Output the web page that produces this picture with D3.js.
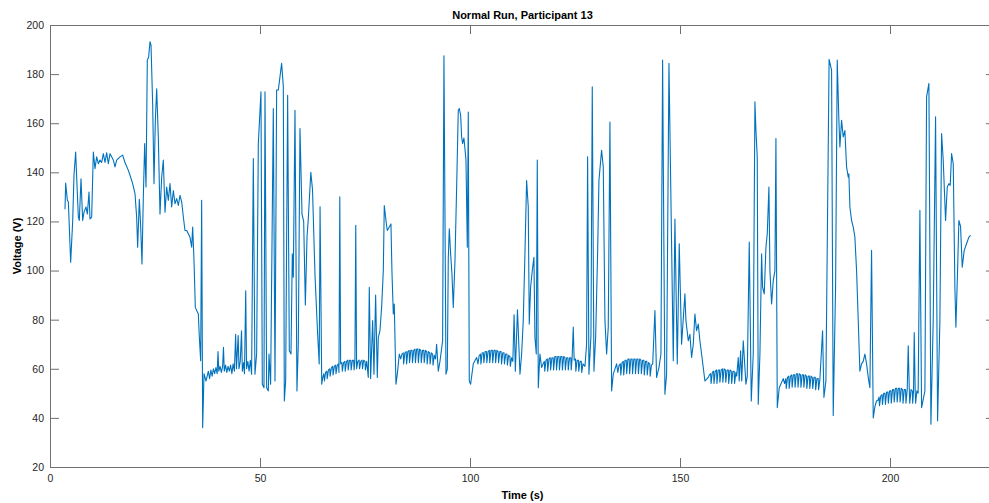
<!DOCTYPE html>
<html><head><meta charset="utf-8">
<script src="https://cdn.jsdelivr.net/npm/d3@7"></script>
<style>
html,body{margin:0;padding:0;background:#fff;}
svg{display:block;}
text{font-family:"Liberation Sans",Arial,Helvetica,sans-serif;}
</style>
</head><body>
<svg id="chart" width="989" height="503"></svg>
<script>
const chartTitle = "Normal Run, Participant 13";
const xLabel = "Time (s)";
const yLabel = "Voltage (V)";
const xTicks = [0, 50, 100, 150, 200];
const yTicks = [20, 40, 60, 80, 100, 120, 140, 160, 180, 200];
const xDomain = [0, 225];
const yDomain = [20, 200];

// [time (s), voltage (V)]
const samples = [
[3.57,125],[3.73,135.6],[4.13,128.6],[4.37,128],[4.92,103.4],[5.40,120],[5.71,138.8],[6.11,148.3],[6.35,138],[6.75,121.8],
[6.98,120.4],[7.38,137.4],[7.78,120.4],[8.10,123.8],[8.57,125.9],[8.89,123],[9.29,132],[9.52,121],[9.92,121.8],[10.32,148.3],
[10.71,141.5],[11.11,146.3],[11.51,143.5],[11.90,145],[12.30,144],[12.70,147.6],[13.10,144],[13.49,148],[13.89,143.5],[14.29,147.6],
[14.68,146.3],[15.08,145],[15.48,142.2],[15.87,145],[16.67,146.3],[17.30,147],[17.86,144],[18.65,140.8],[19.05,138.8],[19.68,135.4],
[20.24,131.3],[20.63,121.8],[20.87,109.5],[21.27,129],[21.59,117.7],[21.90,102.7],[22.22,130],[22.54,151.7],[22.86,134],[23.17,185.7],
[23.49,187],[23.81,193.2],[24.05,191.8],[24.44,168],[24.76,135.4],[25.08,161.2],[25.40,174],[25.79,154.4],[26.19,123],[26.59,138],
[26.98,145],[27.38,123.8],[27.78,134],[28.17,128.6],[28.57,135.4],[28.97,125.9],[29.37,132.6],[29.76,127.2],[30.16,129.3],[30.56,126.5],
[30.95,130.6],[31.35,128],[31.75,121.8],[32.14,116.3],[32.54,116.3],[32.94,115],[33.33,113.6],[33.73,109.5],[33.97,117.7],[34.29,104],
[34.60,85],[34.92,83.7],[35.32,82.3],[35.56,72.8],[35.87,63.3],[36.11,128.6],[36.35,36],[36.67,58],[37.14,55],[37.70,59],
[38.0,56],[38.3,59.5],[38.6,57],[38.9,60],[39.2,58],[39.5,60.5],[39.8,58],[40.0,67],[40.2,59],[40.5,61],
[40.8,58.5],[41.1,61],[41.3,68.7],[41.5,59],[41.8,61.5],[42.1,58.5],[42.4,61],[42.7,59],[43.0,61.5],[43.3,58],
[43.6,62],[43.9,59],[44.2,74],[44.4,60],[44.8,73.5],[45.0,60],[45.3,63],[45.6,75.5],[45.8,59],[46.1,62.5],
[46.3,58],[46.6,91.8],[46.8,60],[47.1,63],[47.4,59],[47.7,63.5],[48.0,57.8],[48.41,145.6],[48.8,57.8],[49.2,66],
[49.6,151.7],[50.23,172.8],[50.55,53.7],[50.95,52.3],[51.19,172.8],[51.58,52.3],[51.98,51],[52.14,66],[52.53,53.7],[53.17,166],
[53.57,55],[53.96,173.5],[54.36,173.5],[54.76,179],[55.15,184.4],[55.55,175],[55.79,46.9],[56.11,55],[56.58,171.4],[56.98,67.3],
[57.38,66],[57.69,106.8],[57.93,97.3],[58.33,165.3],[58.80,51],[59.12,70],[59.52,157.8],[60.0,123],[60.4,120],[60.8,86],
[61.2,114],[61.5,121],[62.1,140],[62.5,133],[63.1,98],[63.7,75],[64.1,62],[64.3,126],[64.7,53.7],
[64.9,56],[65.2,58],[65.35,55],[65.6,58.5],[65.9,59],[66.0,56],[66.3,59.5],[66.6,60],[66.7,57],[67.0,60.5],
[67.3,61],[67.4,57.5],[67.7,61],[68.0,61.5],[68.1,58],[68.4,61.5],[68.7,62],[68.8,58.5],[69.0,130],[69.2,62],
[69.5,62.5],[69.6,59],[69.9,62.5],[70.2,63],[70.3,59],[70.6,63],[70.9,63.5],[71.0,59.5],[71.3,63.5],[71.6,63.5],
[71.7,59.5],[72.0,63.5],[72.3,63.5],[72.4,59.5],[72.6,63],[72.8,118.4],[73.0,60],[73.3,63],[73.6,63.5],[73.7,60],
[74.0,63],[74.3,63.5],[74.4,60],[74.7,63.5],[75.0,63],[75.1,59.5],[75.4,63],[75.78,56.5],[76.02,93.2],[76.34,56],
[76.82,79.6],[77.13,57.8],[77.53,90],[77.93,56.5],[78.17,72.8],[78.56,75.5],[78.96,85],[79.36,100],[79.59,126.5],[79.99,120.4],
[80.31,116.3],[80.78,117.7],[81.18,119],[81.42,99.3],[81.74,82.3],[81.97,86.4],[82.37,53.7],[82.69,57.8],[83.17,66],
[83.5,64],[83.8,66],[84.1,66.5],[84.2,62],[84.5,66.5],[84.8,67],[84.9,62],[85.2,67],[85.5,67.5],[85.6,62.5],
[85.9,67.5],[86.2,67.5],[86.3,62.5],[86.6,67.5],[86.9,68],[87.0,62.5],[87.3,68],[87.6,68],[87.7,62.5],[88.0,68],
[88.3,67.5],[88.4,62.5],[88.7,67.5],[89.0,67.5],[89.1,62.5],[89.4,67.5],[89.7,67],[89.8,62],[90.1,67],[90.4,66.5],
[90.5,62],[90.8,66.5],[91.1,66],[91.2,61.5],[91.5,65.5],[91.8,64],
[92.05,70],[92.45,59],[92.85,63],[93.48,71.4],[93.8,187.5],[94.28,57.8],
[94.6,60],[94.83,105],[95.07,117],[95.39,106.8],[95.7,98.6],[96.02,85],[96.42,104],[96.82,134],[97.21,165.3],[97.45,166],
[97.77,163.3],[98.01,154.4],[98.24,151.7],[98.56,154],[99.04,145],[99.36,109.5],[99.59,164.6],[99.83,55],[100.15,53.7],[100.78,62],
[101.58,64.6],
[101.9,62],[102.2,65.5],[102.5,66],[102.6,62],[102.9,66.5],[103.2,66.5],[103.3,62.5],[103.6,67],[103.9,67],[104.0,62.5],
[104.3,67],[104.6,67.5],[104.7,62.5],[105.0,67.5],[105.3,67.5],[105.4,62.5],[105.7,67.5],[106.0,67.5],[106.1,62.5],[106.4,67.5],
[106.7,67],[106.8,62.5],[107.1,67],[107.4,67],[107.5,62],[107.8,66.5],[108.1,66.5],[108.2,62],[108.5,66],[108.8,66],
[108.9,61.5],[109.2,65.5],[109.5,65],[109.6,61],[109.9,64.5],[110.2,63],
[110.5,82],[110.8,59],[111.3,84],[111.9,57.8],[112.29,66],[112.68,79.6],[113.08,106.8],[113.48,136.7],[113.87,126],[114.11,78.2],
[114.43,93.2],[114.83,100],[115.22,105.4],[115.46,72.8],[115.78,66],[116.02,145],[116.26,52.3],[116.65,66],[117.05,60.5],
[117.4,62],[117.7,63],[117.8,59],[118.1,63.5],[118.4,64],[118.5,59],[118.8,64],[119.1,64.5],[119.2,59.5],[119.5,64.5],
[119.8,64.5],[119.9,59.5],[120.2,65],[120.5,65],[120.6,59.5],[120.9,65],[121.2,65],[121.3,59.5],[121.6,65],[121.9,65],
[122.0,59.5],[122.3,65],[122.6,64.5],[122.7,59.5],[123.0,64.5],[123.3,64.5],[123.4,59.5],[123.7,64.5],[124.0,64.5],[124.1,59.5],
[124.3,64],[124.59,77],[124.8,63.5],[125.1,64],[125.2,59],[125.5,63.5],[125.8,63.5],[125.9,59],[126.2,63],[126.5,63],
[126.6,58.5],[126.9,62],
[127.37,61],[127.76,70],[128.0,146.3],[128.32,57.8],[128.8,73.5],[129.11,174.8],[129.51,59],[129.91,72.8],[130.38,106.8],[130.7,136.7],
[131.33,149],[131.73,142.2],[132.13,79.6],[132.53,66],[132.92,77],[133.32,160.5],[133.72,51],[134.11,57.8],[134.91,62],
[135.2,58.5],[135.5,61.5],[135.8,62],[135.9,57.5],[136.2,62.5],[136.5,63],[136.6,57.5],[136.9,63.5],[137.2,63.5],[137.3,58],
[137.6,64],[137.9,64],[138.0,58],[138.3,64],[138.6,64],[138.7,58],[139.0,64],[139.3,64],[139.4,58],[139.7,64],
[140.0,64],[140.1,58],[140.4,64],[140.7,63.5],[140.8,58],[141.1,63.5],[141.4,63.5],[141.5,57.5],[141.8,63],[142.1,63],
[142.2,57.5],[142.5,62.5],[142.8,62],[142.9,57],[143.2,61.5],[143.5,62],
[144.03,83.7],[144.43,56.5],[144.99,60.5],
[145.46,66],[145.86,185.7],[146.41,49.6],[146.81,57.8],[147.37,184.4],[148.4,63.3],[148.79,121],[149.35,62],[149.82,110.9],[150.38,70],
[151.17,90.5],[151.41,79.6],[151.97,71.4],[152.36,74],[152.76,64.6],[153.16,70],[153.55,82.3],[153.95,75.5],[154.35,78.2],[154.74,71.4],
[155.54,60.5],[155.93,55],[156.73,56.5],
[157.0,57.5],[157.3,58],[157.4,54],[157.7,58.5],[158.0,59],[158.1,54],[158.4,59],[158.7,59.5],[158.8,54],[159.1,59.5],
[159.4,59.5],[159.5,54.5],[159.8,59.5],[160.1,60],[160.2,54.5],[160.5,60],[160.8,59.5],[160.9,54.5],[161.2,59.5],[161.5,59.5],
[161.6,54],[161.9,59.5],[162.2,59],[162.3,54],[162.6,59],[162.9,59],[163.0,54],[163.3,58.5],[163.5,57],
[163.87,64.6],[164.1,55],[164.43,67.3],[164.7,55],[165.06,71.4],
[165.7,53.7],[166.01,57],[166.49,111.6],[166.97,46.9],[167.44,66],[167.84,168.7],[168.08,157],[168.39,146.3],[168.63,45.6],[169.03,66],
[169.43,106.8],[169.66,93.2],[170.06,90.5],[170.46,109.5],[170.78,115],[171.17,134],[171.41,100],[171.81,86.4],[172.2,95.9],[172.6,100],
[172.84,153.8],[173.16,44.2],[173.63,52.3],[174.58,56],
[174.9,54],[175.2,56],[175.3,52],[175.6,56.5],[175.9,57],[176.0,52],[176.3,57],[176.6,57.5],[176.7,52.5],[177.0,57.5],
[177.3,57.5],[177.4,52.5],[177.7,58],[178.0,58],[178.1,52.5],[178.4,58],[178.7,57.5],[178.8,52.5],[179.1,57.5],[179.4,57.5],
[179.5,52.5],[179.8,57.5],[180.1,57],[180.2,52],[180.5,57],[180.8,57],[180.9,52],[181.2,57],[181.5,56.5],[181.6,52],
[181.9,56.5],[182.2,56.5],[182.3,51.5],[182.6,56],[182.9,56],[183.0,51.5],[183.3,55.5],
[183.95,75.5],[184.27,48.3],[184.74,55],[185.5,186],[186.09,181.6],[186.48,41],[187.04,93],[187.44,185.7],
[187.83,161.2],[188.07,150.3],[188.47,161.2],[188.87,154.4],[189.26,157],[189.66,142.2],[190.06,138],[190.21,139.4],[190.45,125.9],[190.85,120.4],
[191.25,117.7],[191.64,113.6],[192.04,100],[192.44,79.6],[192.83,59],[193.23,62],[193.63,63],[194.02,66],[194.42,62],[194.82,56.5],
[195.21,52.3],[195.61,108.2],[196.01,40],[196.4,44.5],[196.8,47],
[197.1,47],[197.4,48.5],[197.5,45],[197.8,49],[198.1,49.5],[198.2,45.5],[198.5,50],[198.8,50],[198.9,45.5],[199.2,50.5],
[199.5,50.5],[199.6,46],[199.9,51],[200.2,51],[200.3,46],[200.6,51.5],[200.9,51.5],[201.0,46.5],[201.3,52],[201.6,52],
[201.7,46.5],[202.0,52],[202.3,52],[202.4,46.5],[202.7,52],[203.0,51.5],[203.1,46],[203.4,51.5],[203.7,51.5],[203.8,46],
[204.1,51.5],[204.34,69.4],[204.6,51],[204.7,46],[205.0,51.5],[205.3,51],[205.4,46],[205.6,51],[205.77,74.8],[206.0,51],
[206.1,46],[206.4,51],[206.7,50],
[207.12,124.5],[207.52,44.2],[208.31,51],[208.71,170.7],
[209.26,176.2],[209.74,37.4],[210.29,79.6],[210.85,162.6],[211.33,38.8],[211.88,79.6],[212.28,155.8],[212.67,145],[213.23,120.4],[213.63,134],
[214.02,135.4],[214.34,134.7],[214.66,147.6],[215.06,143.5],[215.45,93.2],[215.69,76.9],[216.09,100],[216.4,120.4],[216.8,118],[217.2,101.4],
[217.67,108.2],[218.23,110.9],[218.78,113.6],[219.18,114.3]
];

const svg = d3.select("#chart");
const mLeft = 50, mRight = 995, mTop = 25, mBottom = 467;
const axisColor = "#707070", textColor = "#262626";

const x = d3.scaleLinear().domain(xDomain).range([mLeft, mRight]);
const y = d3.scaleLinear().domain(yDomain).range([mBottom, mTop]);

svg.append("rect").attr("x",0).attr("y",0).attr("width",989).attr("height",503).attr("fill","#fff");

svg.append("defs").append("clipPath").attr("id","clip")
  .append("rect").attr("x",mLeft).attr("y",mTop).attr("width",mRight-mLeft).attr("height",mBottom-mTop);

const line = d3.line().x(d => x(d[0])).y(d => y(d[1]));
svg.append("path").datum(samples)
  .attr("clip-path","url(#clip)")
  .attr("fill","none").attr("stroke","#0072BD").attr("stroke-width",1.1)
  .attr("stroke-linejoin","round")
  .attr("d", line);

const tickLen = 9;
function styleAxis(g){
  g.select(".domain").attr("stroke",axisColor).attr("stroke-width",1);
  g.selectAll(".tick line").attr("stroke",axisColor).attr("stroke-width",1);
  g.selectAll(".tick text").attr("fill",textColor).style("font-size","10.5px");
}
// bottom
svg.append("g").attr("transform",`translate(0,${mBottom})`)
  .call(d3.axisBottom(x).tickValues(xTicks).tickSizeInner(-tickLen).tickSizeOuter(0).tickPadding(4).tickFormat(d3.format("d")))
  .call(styleAxis).call(g => g.selectAll(".tick text").attr("dy","0.85em").attr("y",6));
// top
svg.append("g").attr("transform",`translate(0,${mTop})`)
  .call(d3.axisTop(x).tickValues(xTicks).tickSizeInner(-tickLen).tickSizeOuter(0).tickFormat(""))
  .call(styleAxis);
// left
svg.append("g").attr("transform",`translate(${mLeft},0)`)
  .call(d3.axisLeft(y).tickValues(yTicks).tickSizeInner(-tickLen).tickSizeOuter(0).tickFormat(d3.format("d")))
  .call(styleAxis).call(g => g.selectAll(".tick text").attr("x",-6));
// right
svg.append("g").attr("transform",`translate(${mRight},0)`)
  .call(d3.axisRight(y).tickValues(yTicks).tickSizeInner(-tickLen).tickSizeOuter(0).tickFormat(""))
  .call(styleAxis);

svg.append("text").attr("x",(mLeft+mRight)/2).attr("y",19).attr("text-anchor","middle")
  .attr("fill","#000").style("font-size","11px").style("font-weight","bold").text(chartTitle);
svg.append("text").attr("x",(mLeft+mRight)/2).attr("y",499).attr("text-anchor","middle")
  .attr("fill","#000").style("font-size","11px").style("font-weight","bold").text(xLabel);
svg.append("text").attr("transform",`translate(21,${(mTop+mBottom)/2}) rotate(-90)`).attr("text-anchor","middle")
  .attr("fill","#000").style("font-size","11px").style("font-weight","bold").text(yLabel);
</script>
</body></html>
